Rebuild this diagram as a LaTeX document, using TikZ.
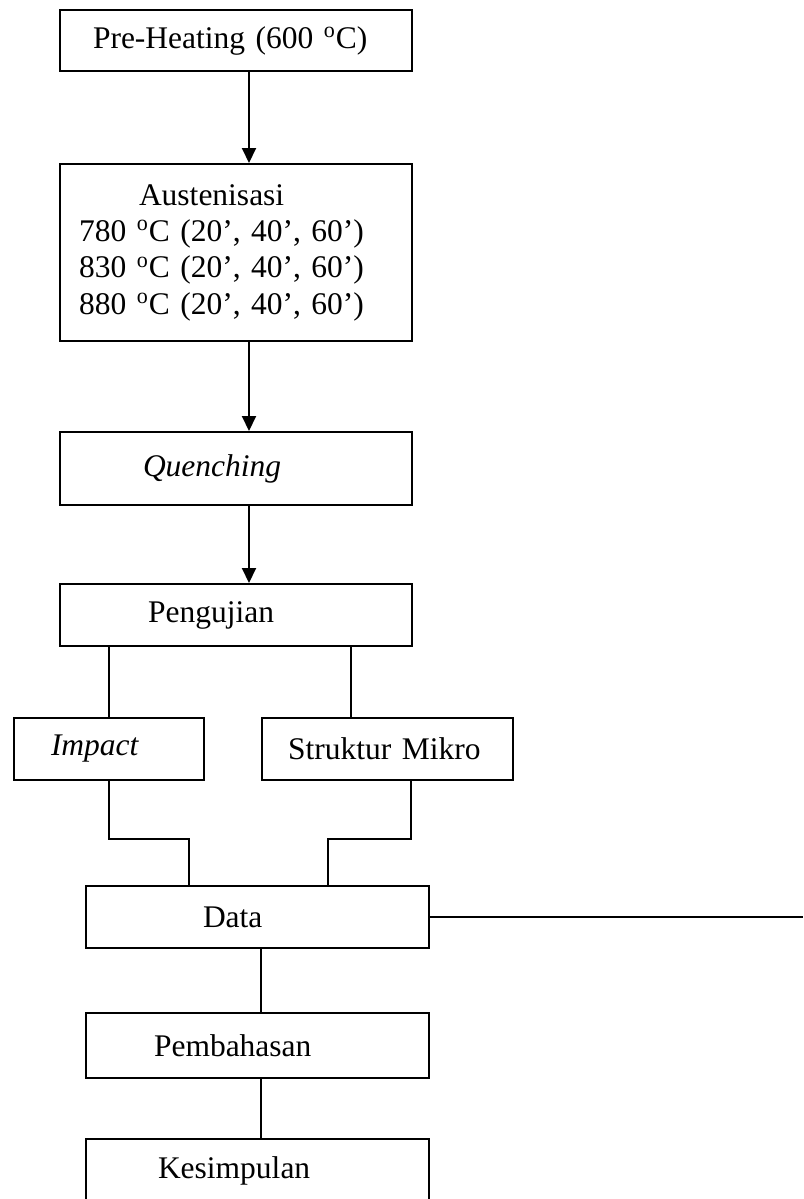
\documentclass[tikz,border=0pt]{standalone}
\usepackage{fontspec}
\setmainfont{Liberation Serif}
\usetikzlibrary{arrows.meta,calc}

\begin{document}
\begin{tikzpicture}[x=0.5pt,y=-0.5pt,
  font=\fontsize{15.75pt}{18.15pt}\selectfont,
  box/.style={draw, line width=1pt, anchor=north west, align=left, inner ysep=0pt},
  link/.style={line width=1pt},
  arr/.style={link, -{Triangle[width=7pt,length=7.5pt]}}]
\useasboundingbox (0,0) rectangle (803,1199);
% stages
\node[box, inner xsep=16.5pt, text width=143pt, minimum height=30.5pt] (pre) at (59,9) {Pre-Heating (600 \textsuperscript{o}C)};
\node[box, inner xsep=9.5pt, text width=157pt, minimum height=88.5pt] (aus) at (59,163)
  {\hspace*{30pt}Austenisasi\\780 \textsuperscript{o}C (20’, 40’, 60’)\\830 \textsuperscript{o}C (20’, 40’, 60’)\\880 \textsuperscript{o}C (20’, 40’, 60’)};
\node[box, inner xsep=41.5pt, text width=93pt, minimum height=36.5pt] (quen) at (59,431) {\textit{Quenching}};
\node[box, inner xsep=44pt, text width=88pt, minimum height=31pt] (peng) at (59,583) {Pengujian};
\node[box, inner xsep=18.5pt, text width=58pt, minimum height=31pt] (imp) at (13,717) {\textit{Impact}};
\node[box, inner xsep=13pt, text width=99.5pt, minimum height=31pt] (struk) at (261,717) {Struktur Mikro};
\node[box, inner xsep=58.5pt, text width=54.5pt, minimum height=31pt] (data) at (85,885) {Data};
\node[box, inner xsep=34pt, text width=103.5pt, minimum height=32.5pt] (pemb) at (85,1012) {Pembahasan};
\node[box, inner xsep=36pt, text width=99.5pt, minimum height=32pt] (kes) at (85,1138) {Kesimpulan};
% helper points
\coordinate (ax) at (249,0);
\coordinate (sx) at (351,0);
\coordinate (mx) at (261,0);
\coordinate (jl) at (189,839);
\coordinate (jr) at (328,839);
\coordinate (dend) at (803,916);
% connectors
\draw[arr] (pre.south -| ax) -- (aus.north -| ax);
\draw[arr] (aus.south -| ax) -- (quen.north -| ax);
\draw[arr] (quen.south -| ax) -- (peng.north -| ax);
\draw[link] (imp.north |- peng.south) -- (imp.north);
\draw[link] (peng.south -| sx) -- (struk.north -| sx);
\draw[link] (imp.south) |- (jl) -- (jl |- data.north);
\draw[link] ($(struk.south)+(23.5,0)$) |- (jr) -- (jr |- data.north);
\draw[link] (data.east) -- (data.east -| dend);
\draw[link] (data.south -| mx) -- (pemb.north -| mx);
\draw[link] (pemb.south -| mx) -- (kes.north -| mx);
\end{tikzpicture}
\end{document}
